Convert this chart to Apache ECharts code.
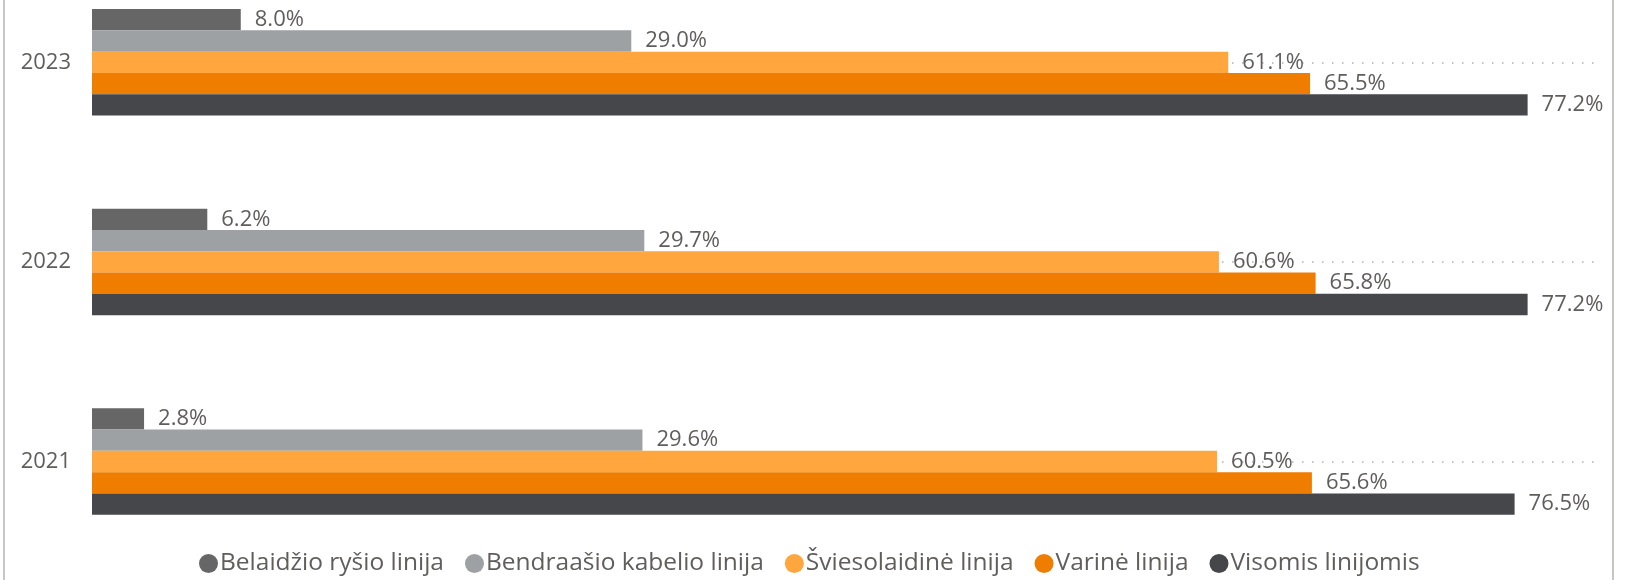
<!DOCTYPE html>
<html>
<head>
<meta charset="utf-8">
<script src="https://cdn.jsdelivr.net/npm/echarts@6/dist/echarts.min.js"></script>
<style>
html,body{margin:0;padding:0;background:#fff;overflow:hidden;width:1632px;height:580px;}
#frame{position:absolute;left:3px;top:0;width:1611px;height:580px;border-left:2px solid #c8c6c4;border-right:2px solid #c8c6c4;box-sizing:border-box;}
#chart{position:absolute;left:0;top:-38px;width:1632px;height:618px;}
</style>
</head>
<body>
<div id="frame"></div>
<div id="chart"></div>
<script>
const years = ['2021', '2022', '2023'];
const seriesNames = ['Belaidžio ryšio linija', 'Bendraašio kabelio linija', 'Šviesolaidinė linija', 'Varinė linija', 'Visomis linijomis'];
const belaidzio = [2.8, 6.2, 8.0];
const bendraasio = [29.6, 29.7, 29.0];
const sviesolaidine = [60.5, 60.6, 61.1];
const varine = [65.6, 65.8, 65.5];
const visomis = [76.5, 77.2, 77.2];
const colors = ['#666666', '#9DA1A4', '#FFA63F', '#EF7D00', '#46474B'];

const FONT = "'Segoe UI', 'Open Sans', sans-serif";
const TXT = '#605E5C';
const values = [belaidzio, bendraasio, sviesolaidine, varine, visomis];

const series = values.map((v, i) => ({
  name: seriesNames[i],
  type: 'bar',
  data: v,
  barWidth: 21.3,
  barGap: '0%',
  z: 10,
  itemStyle: { color: colors[i] },
  label: {
    show: true, position: 'right', distance: 14,
    formatter: p => p.value.toFixed(1) + '%',
    fontFamily: FONT, fontSize: 22, color: TXT
  }
}));
series[2].markLine = {
  silent: true, symbol: 'none', z: 1,
  label: { show: false },
  lineStyle: { color: '#b3b0ad', type: [1.5, 8.5], width: 1.5 },
  data: years.map(y => ({ yAxis: y }))
};

const chart = echarts.init(document.getElementById('chart'), null, { renderer: 'canvas' });
chart.setOption({
  animation: false,
  grid: { left: 92, right: 30, top: 0.5, bottom: 18.7, containLabel: false },
  xAxis: { type: 'value', min: 0, max: 81.2, show: false },
  yAxis: {
    type: 'category', data: years,
    axisLine: { show: false }, axisTick: { show: false }, splitLine: { show: false },
    axisLabel: { margin: 21, fontFamily: FONT, fontSize: 22, color: TXT }
  },
  legend: {
    data: seriesNames, left: 194, top: 584,
    icon: 'circle', itemWidth: 19, itemHeight: 19, itemGap: 21,
    textStyle: { fontFamily: FONT, fontSize: 24.5, color: TXT, padding: [0, 0, 0, -3] }
  },
  series: series
});
</script>
</body>
</html>
